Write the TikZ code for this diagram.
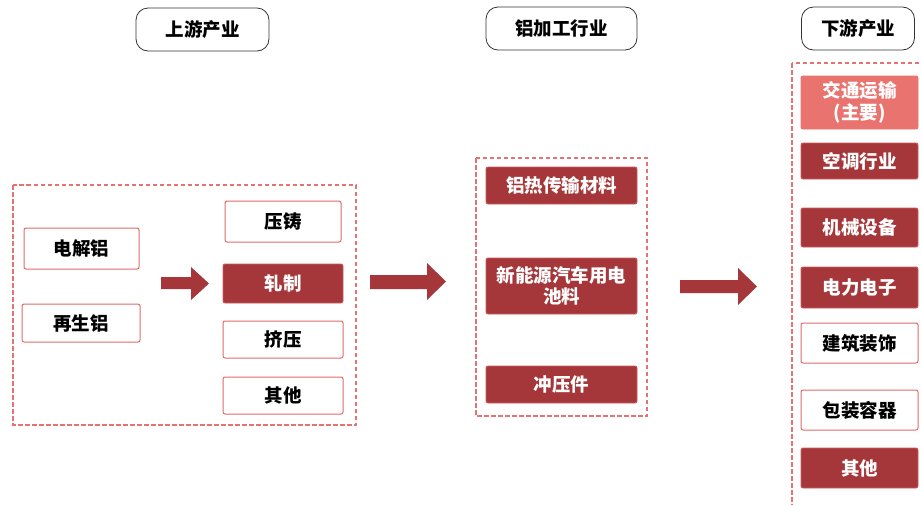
\documentclass[tikz,border=0pt]{standalone}
\usepackage{fontspec}
\setmainfont{Noto Sans CJK SC}
\usetikzlibrary{positioning}
\definecolor{dred}{HTML}{A5373A}
\definecolor{lred}{HTML}{E8736F}
\definecolor{bred}{HTML}{E06A6A}
\definecolor{dashred}{HTML}{E57373}
\tikzset{
  hdr/.style={draw=black!80, line width=0.8pt, rounded corners=12pt, fill=white, font=\bfseries\fontsize{18.5}{20}\selectfont, inner sep=0pt},
  wbox/.style={draw=bred, line width=1pt, rounded corners=2pt, fill=white, font=\bfseries\fontsize{18.5}{20}\selectfont, inner sep=0pt, align=center},
  dbox/.style={draw=bred!70!dred, line width=0.9pt, rounded corners=2pt, fill=dred, text=white, font=\bfseries\fontsize{18.5}{21}\selectfont, inner sep=0pt, align=center},
  lbox/.style={dbox, fill=lred, draw=lred},
  grp/.style={draw=dashred, dashed, dash pattern=on 4.5pt off 2.5pt, line width=1.1pt},
  barrow/.style={fill=dred, draw=none}
}
\begin{document}
\begin{tikzpicture}[x=1pt,y=-1pt]
\useasboundingbox (0,0) rectangle (921,504);
% headers
\node[hdr, minimum width=133pt, minimum height=43pt] (h1) at (202.5,29.5) {上游产业};
\node[hdr, minimum width=151pt, minimum height=43pt] (h2) at (561.5,28.5) {铝加工行业};
\node[hdr, minimum width=113pt, minimum height=43pt] (h3) at (858,28.5) {下游产业};
% group boxes
\draw[grp] (13,185) rectangle (356,425);
\draw[grp] (476,158) rectangle (647,416);
\draw[grp] (792,63) rectangle (930,510);
% upstream
\node[wbox, minimum width=115pt, minimum height=41pt] (a1) at (81.5,248.5) {电解铝};
\node[wbox, minimum width=118pt, minimum height=38pt] (a2) at (81,323) {再生铝};
\node[wbox, minimum width=116pt, minimum height=41pt] (b1) at (283,221.5) {压铸};
\node[dbox, minimum width=120pt, minimum height=39pt] (b2) at (283,283.5) {轧制};
\node[wbox, minimum width=120pt, minimum height=37pt] (b3) at (283,339.5) {挤压};
\node[wbox, minimum width=120pt, minimum height=37pt] (b4) at (283,395.5) {其他};
% middle
\node[dbox, minimum width=151pt, minimum height=37pt] (m1) at (561.5,185.5) {铝热传输材料};
\node[dbox, minimum width=151pt, minimum height=56pt] (m2) at (561.5,286) {新能源汽车用电\\池料};
\node[dbox, minimum width=151pt, minimum height=37pt] (m3) at (561.5,384.5) {冲压件};
% downstream
\node[lbox, minimum width=117pt, minimum height=53pt, font=\bfseries\fontsize{18.5}{22}\selectfont] (d1) at (859.5,102.5) {交通运输\\(主要)};
\node[dbox, minimum width=117pt, minimum height=36pt] (d2) at (859.5,161) {空调行业};
\node[dbox, minimum width=117pt, minimum height=39pt] (d3) at (859.5,227.5) {机械设备};
\node[dbox, minimum width=117pt, minimum height=41pt] (d4) at (859.5,287.5) {电力电子};
\node[wbox, minimum width=117pt, minimum height=40pt] (d5) at (859.5,343) {建筑装饰};
\node[wbox, minimum width=117pt, minimum height=40pt] (d6) at (859.5,410) {包装容器};
\node[dbox, minimum width=117pt, minimum height=40pt] (d7) at (859.5,468) {其他};
% block arrows
\fill[barrow] (161,277) -- (191,277) -- (191,267) -- (209,283.5) -- (191,300) -- (191,289) -- (161,289) -- cycle;
\fill[barrow] (370,275) -- (427,275) -- (427,263) -- (446,281.5) -- (427,300) -- (427,289) -- (370,289) -- cycle;
\fill[barrow] (680,280) -- (738,280) -- (738,268) -- (757,286.5) -- (738,305) -- (738,293) -- (680,293) -- cycle;
\end{tikzpicture}
\end{document}
